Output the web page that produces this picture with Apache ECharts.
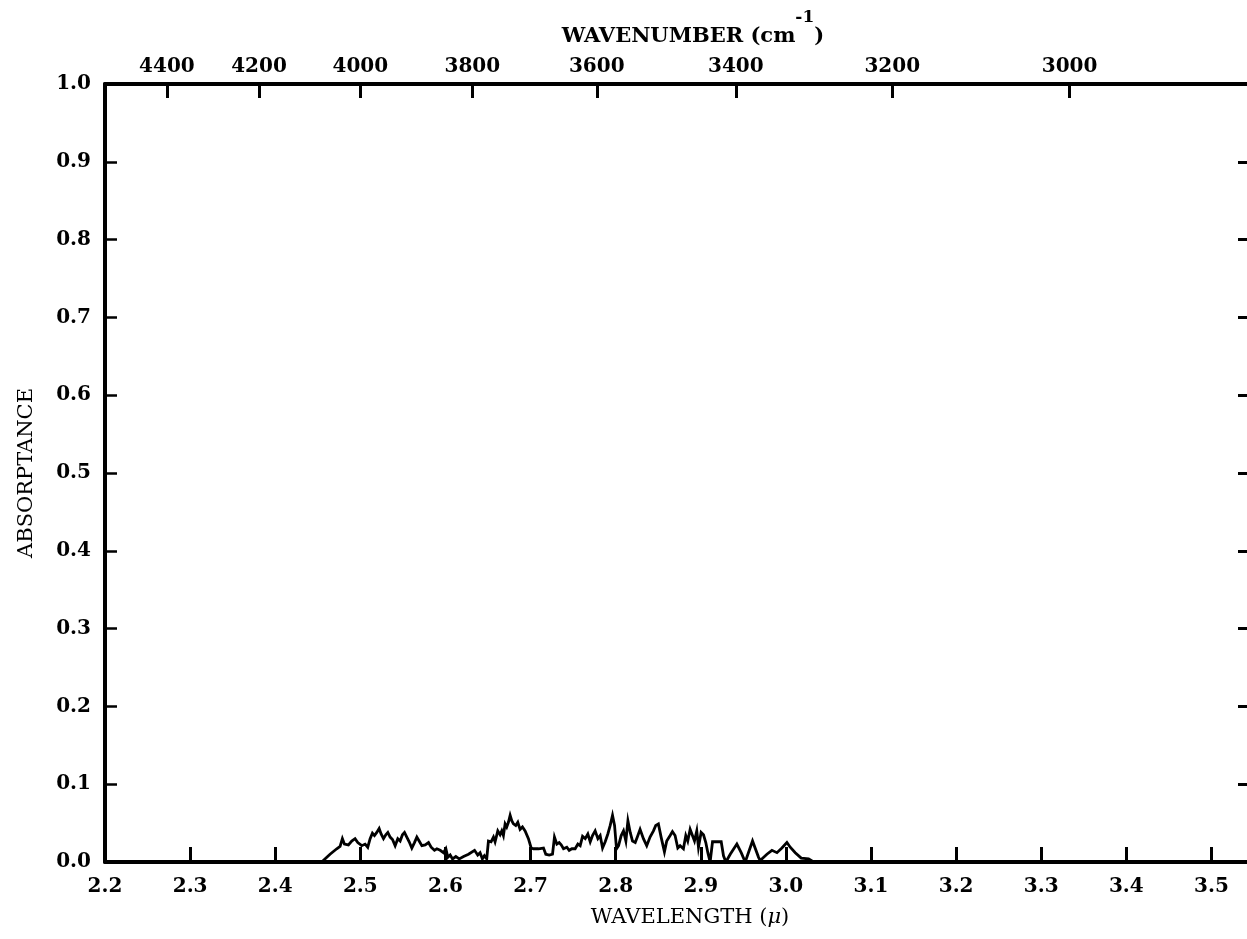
<!DOCTYPE html>
<html>
<head>
<meta charset="utf-8">
<title>Absorptance spectrum</title>
<script src="https://cdn.jsdelivr.net/npm/echarts@6/dist/echarts.min.js"></script>
<style>
  html, body { margin: 0; padding: 0; background: #ffffff; }
  #chart { width: 1247px; height: 939px; }
</style>
</head>
<body>
<div id="chart"></div>
<script>
// Measured spectrum: wavelength in microns, absorptance (fraction)
const wavelengths = [
  2.4546, 2.4644, 2.4723, 2.4762, 2.4789, 2.4813, 2.4860, 2.4899, 2.4938, 2.4970,
  2.5017, 2.5056, 2.5087, 2.5115, 2.5142, 2.5166, 2.5193, 2.5221, 2.5244, 2.5272,
  2.5299, 2.5323, 2.5350, 2.5378, 2.5409, 2.5440, 2.5468, 2.5495, 2.5519, 2.5546,
  2.5574, 2.5605, 2.5636, 2.5664, 2.5691, 2.5723, 2.5762, 2.5801, 2.5832, 2.5871,
  2.5899, 2.5938, 2.5977, 2.6005, 2.6028, 2.6056, 2.6083, 2.6122, 2.6162, 2.6213,
  2.6271, 2.6342,
  2.6379, 2.6407, 2.6434, 2.6458, 2.6485, 2.6505, 2.6536, 2.6564, 2.6583, 2.6615,
  2.6642, 2.6662, 2.6681, 2.6701, 2.6720, 2.6740, 2.6760, 2.6779, 2.6799, 2.6826,
  2.6850, 2.6877, 2.6905, 2.6936, 2.6975, 2.7007, 2.7034, 2.7093, 2.7152, 2.7179,
  2.7219, 2.7258, 2.7281, 2.7309, 2.7336, 2.7360, 2.7387, 2.7426, 2.7454, 2.7485,
  2.7524, 2.7556, 2.7583, 2.7611, 2.7642, 2.7673, 2.7701, 2.7728, 2.7759, 2.7791,
  2.7818, 2.7846, 2.7877, 2.7908, 2.7936, 2.7963, 2.7987, 2.8010, 2.8034, 2.8065,
  2.8092, 2.8120, 2.8144, 2.8171, 2.8198, 2.8230, 2.8261,
  2.8287, 2.8326, 2.8365, 2.8404, 2.8444, 2.8471, 2.8502, 2.8534, 2.8573, 2.8600,
  2.8640, 2.8667, 2.8698, 2.8730, 2.8757, 2.8796, 2.8824, 2.8847, 2.8875, 2.8902,
  2.8926, 2.8953, 2.8973, 2.9004, 2.9032, 2.9059, 2.9083, 2.9110, 2.9138, 2.9208,
  2.9240, 2.9267, 2.9295, 2.9346, 2.9424, 2.9475, 2.9522, 2.9608, 2.9679, 2.9698,
  2.9777, 2.9836, 2.9895, 2.9953, 3.0012, 3.0051, 3.0110, 3.0180, 3.0267, 3.0326
];
const absorptance = [
  0.000, 0.010, 0.017, 0.020, 0.030, 0.023, 0.022, 0.027, 0.030, 0.025,
  0.021, 0.023, 0.019, 0.030, 0.037, 0.034, 0.038, 0.043, 0.036, 0.030,
  0.035, 0.038, 0.032, 0.029, 0.021, 0.030, 0.027, 0.035, 0.038, 0.032,
  0.026, 0.018, 0.025, 0.032, 0.027, 0.021, 0.022, 0.025, 0.019, 0.015,
  0.017, 0.015, 0.012, 0.017, 0.006, 0.009, 0.004, 0.007, 0.004, 0.007,
  0.010, 0.015,
  0.009, 0.012, 0.004, 0.008, 0.004, 0.027, 0.026, 0.032, 0.026, 0.040,
  0.035, 0.040, 0.034, 0.049, 0.045, 0.051, 0.060, 0.053, 0.049, 0.047,
  0.051, 0.042, 0.045, 0.040, 0.030, 0.018, 0.017, 0.017, 0.018, 0.010,
  0.009, 0.010, 0.032, 0.023, 0.025, 0.022, 0.017, 0.019, 0.015, 0.017,
  0.017, 0.023, 0.021, 0.033, 0.030, 0.036, 0.026, 0.034, 0.040, 0.030,
  0.034, 0.018, 0.026, 0.036, 0.047, 0.060, 0.047, 0.017, 0.021, 0.034,
  0.040, 0.027, 0.053, 0.038, 0.027, 0.025, 0.034,
  0.042, 0.030, 0.021, 0.032, 0.040, 0.047, 0.049, 0.032, 0.013, 0.027,
  0.034, 0.039, 0.034, 0.018, 0.021, 0.017, 0.034, 0.027, 0.042, 0.034,
  0.027, 0.040, 0.019, 0.038, 0.035, 0.025, 0.012, 0.000, 0.026, 0.026,
  0.026, 0.008, 0.000, 0.010, 0.023, 0.012, 0.000, 0.027, 0.006, 0.002,
  0.010, 0.015, 0.012, 0.018, 0.025, 0.019, 0.012, 0.005, 0.004, 0.000
];

// Tick labels
const wavelengthTicks = [2.2, 2.3, 2.4, 2.5, 2.6, 2.7, 2.8, 2.9, 3.0, 3.1, 3.2, 3.3, 3.4, 3.5];
const wavenumberTicks = [4400, 4200, 4000, 3800, 3600, 3400, 3200, 3000];
const absorptanceTicks = [0.0, 0.1, 0.2, 0.3, 0.4, 0.5, 0.6, 0.7, 0.8, 0.9, 1.0];

const serif = '"DejaVu Serif", "Liberation Serif", serif';
const ink = '#000000';
const tickFont = { fontFamily: serif, fontWeight: 'bold', fontSize: 20, color: ink };

// wavenumber (cm^-1) -> wavelength (micron), so the top scale shares the bottom axis range
const wavenumberPositions = wavenumberTicks.map(n => 10000 / n);

const series = wavelengths.map((w, i) => [w, absorptance[i]]);

const chart = echarts.init(document.getElementById('chart'), null, { renderer: 'canvas' });

const axisLine = { show: true, onZero: false, lineStyle: { color: ink, width: 4 } };

chart.setOption({
  animation: false,
  backgroundColor: '#ffffff',
  grid: {
    left: 105,
    top: 84,
    width: 1149,
    height: 778,
    containLabel: false,
    outerBoundsMode: 'none'
  },
  xAxis: [
    {
      type: 'value',
      position: 'bottom',
      min: 2.2,
      max: 3.55,
      interval: 0.1,
      axisLine: axisLine,
      axisTick: {
        show: true, inside: true, length: 15,
        customValues: wavelengthTicks,
        lineStyle: { color: ink, width: 3 }
      },
      axisLabel: Object.assign({
        show: true,
        customValues: wavelengthTicks,
        formatter: v => Number(v).toFixed(1),
        margin: 15
      }, tickFont),
      splitLine: { show: false }
    },
    {
      type: 'value',
      position: 'top',
      min: 2.2,
      max: 3.55,
      axisLine: axisLine,
      axisTick: {
        show: true, inside: true, length: 14,
        customValues: wavenumberPositions,
        lineStyle: { color: ink, width: 3 }
      },
      axisLabel: Object.assign({
        show: true,
        customValues: wavenumberPositions,
        formatter: v => String(Math.round(10000 / v)),
        margin: 7
      }, tickFont),
      splitLine: { show: false }
    }
  ],
  yAxis: [
    {
      type: 'value',
      position: 'left',
      min: 0,
      max: 1,
      interval: 0.1,
      axisLine: axisLine,
      axisTick: {
        show: true, inside: true, length: 12,
        customValues: absorptanceTicks,
        lineStyle: { color: ink, width: 2.5 }
      },
      axisLabel: Object.assign({
        show: true,
        customValues: absorptanceTicks,
        formatter: v => Number(v).toFixed(1),
        margin: 14
      }, tickFont),
      splitLine: { show: false }
    },
    {
      type: 'value',
      position: 'right',
      min: 0,
      max: 1,
      interval: 0.1,
      axisLine: axisLine,
      axisTick: {
        show: true, inside: true, length: 16,
        customValues: absorptanceTicks,
        lineStyle: { color: ink, width: 3 }
      },
      axisLabel: { show: false },
      splitLine: { show: false }
    }
  ],
  series: [
    {
      type: 'line',
      xAxisIndex: 0,
      yAxisIndex: 0,
      data: series,
      showSymbol: false,
      symbol: 'none',
      lineStyle: { color: ink, width: 2.8, join: 'miter' },
      z: 3
    }
  ],
  graphic: [
    {
      type: 'text',
      x: 693,
      y: 28,
      style: {
        text: '{b|WAVENUMBER (cm}{s|-1}{b|)}',
        align: 'center',
        verticalAlign: 'middle',
        rich: {
          b: { fontFamily: serif, fontWeight: 'bold', fontSize: 21, fill: ink, lineHeight: 38, verticalAlign: 'bottom' },
          s: { fontFamily: serif, fontWeight: 'bold', fontSize: 17, fill: ink, lineHeight: 38, verticalAlign: 'top' }
        }
      }
    },
    {
      type: 'text',
      x: 690,
      y: 918,
      style: {
        text: '{n|WAVELENGTH (}{i|μ}{n|)}',
        align: 'center',
        verticalAlign: 'middle',
        rich: {
          n: { fontFamily: serif, fontSize: 21, fill: ink },
          i: { fontFamily: serif, fontStyle: 'italic', fontSize: 21, fill: ink }
        }
      }
    },
    {
      type: 'text',
      x: 27,
      y: 473,
      rotation: Math.PI / 2,
      style: {
        text: 'ABSORPTANCE',
        align: 'center',
        verticalAlign: 'middle',
        fontFamily: serif,
        fontSize: 21,
        fill: ink
      }
    }
  ]
});
</script>
</body>
</html>
